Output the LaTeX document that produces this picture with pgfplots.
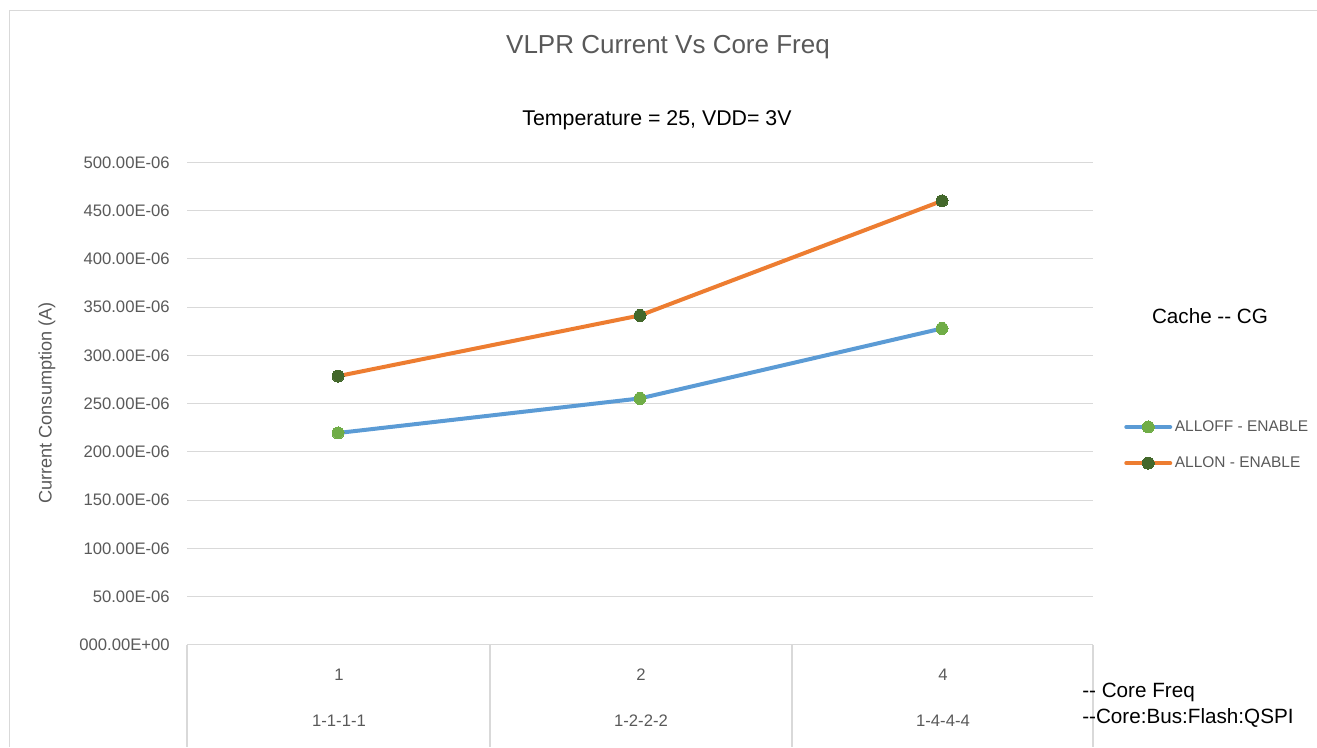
\documentclass[border=0pt]{standalone}
\usepackage{pgfplots}
\pgfplotsset{compat=1.18}
\usepackage{fontspec}
\setmainfont{Liberation Sans}
\definecolor{gridc}{HTML}{D9D9D9}
\definecolor{txt}{HTML}{595959}
\definecolor{sblue}{HTML}{5B9BD5}
\definecolor{sorange}{HTML}{ED7D31}
\definecolor{lgreen}{HTML}{70AD47}
\definecolor{dgreen}{HTML}{43682B}
\begin{document}
\begin{tikzpicture}
\begin{axis}[
 at={(140.25pt,-483.6pt)}, anchor=south west,
 scale only axis, width=679.5pt, height=361.9pt,
 xmin=0.5, xmax=3.5, ymin=0, ymax=500,
 axis line style={draw=none},
 major tick length=0pt,
 xtick=\empty,
 ytick={0,50,100,150,200,250,300,350,400,450,500},
 yticklabels={000.00E+00,50.00E-06,100.00E-06,150.00E-06,200.00E-06,250.00E-06,300.00E-06,350.00E-06,400.00E-06,450.00E-06,500.00E-06},
 yticklabel style={anchor=east, inner sep=0pt, xshift=-12.75pt, font=\fontsize{12.5}{15}\selectfont, text=txt},
 scaled y ticks=false,
 ymajorgrids, grid style={gridc, line width=0.75pt},
 clip=false,
 legend cell align=left,
 legend image code/.code={\draw[mark repeat=2,mark phase=2,#1] plot coordinates {(0pt,0pt) (16.5pt,0pt) (33pt,0pt)};},
 legend style={draw=none, fill=none, at={(1.0342,0.414)}, anchor=west, font=\fontsize{11.6}{14}\selectfont, text=txt, row sep=13.5pt, inner sep=0pt},
]
\addplot[sblue, line width=3pt, line cap=round, line join=round, mark=*, mark size=4.5pt, mark options={lgreen, fill=lgreen, line width=0pt}] coordinates {(1,219.5) (2,255.3) (3,327.8)};
\addlegendentry{ALLOFF - ENABLE}
\addplot[sorange, line width=3pt, line cap=round, line join=round, mark=*, mark size=4.5pt, mark options={dgreen, fill=dgreen, line width=0pt}] coordinates {(1,278.4) (2,341.3) (3,460)};
\addlegendentry{ALLON - ENABLE}
\end{axis}
\begin{scope}[x=0.75pt,y=-0.75pt]
\draw[gridc, line width=1pt] (9.5,747) -- (9.5,10.5) -- (1317,10.5);
\draw[gridc, line width=1pt] (187,644.8) -- (1093,644.8);
\foreach \x in {187,490,792,1093} \draw[gridc, line width=1pt] (\x,644.8) -- (\x,747);
\node[text=txt, font=\fontsize{19.5}{23}\selectfont] at (668,47) {VLPR Current Vs Core Freq};
\node[font=\fontsize{16}{19}\selectfont] at (657,120) {Temperature = 25, VDD= 3V};
\node[rotate=90, text=txt, font=\fontsize{13.6}{16}\selectfont] at (47,403) {Current Consumption (A)};
\node[font=\fontsize{15.5}{18}\selectfont] at (1210,316) {Cache -{}- CG};
\node[text=txt, font=\fontsize{12.5}{15}\selectfont] at (339,675) {1};
\node[text=txt, font=\fontsize{12.5}{15}\selectfont] at (641,675) {2};
\node[text=txt, font=\fontsize{12.5}{15}\selectfont] at (943,675) {4};
\node[text=txt, font=\fontsize{12.5}{15}\selectfont] at (339,721) {1-1-1-1};
\node[text=txt, font=\fontsize{12.5}{15}\selectfont] at (641,721) {1-2-2-2};
\node[text=txt, font=\fontsize{12.5}{15}\selectfont] at (943,721) {1-4-4-4};
\node[anchor=west, inner sep=0pt, font=\fontsize{15.5}{18}\selectfont] at (1082,692) {-{}- Core Freq};
\node[anchor=west, inner sep=0pt, font=\fontsize{15.5}{18}\selectfont] at (1082,718) {-{}-Core:Bus:Flash:QSPI};
\pgfresetboundingbox
\path[use as bounding box] (0,0) rectangle (1317,747);
\end{scope}
\end{tikzpicture}
\end{document}
